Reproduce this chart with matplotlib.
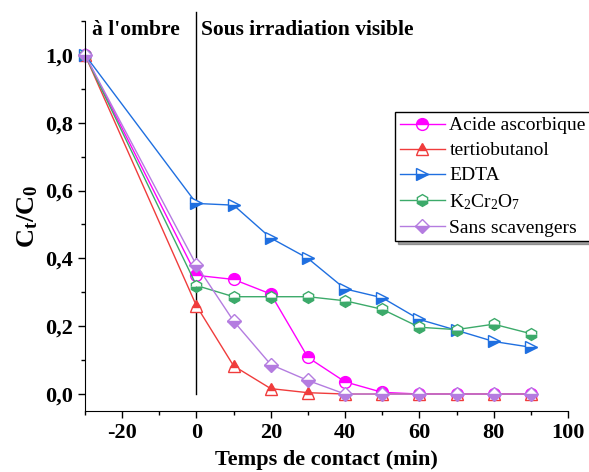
import matplotlib
matplotlib.use("Agg")
import matplotlib.pyplot as plt
from matplotlib.ticker import FuncFormatter, MultipleLocator

plt.rcParams['font.family'] = ['Liberation Serif', 'DejaVu Serif']
plt.rcParams['mathtext.fontset'] = 'custom'
plt.rcParams['mathtext.rm'] = 'Liberation Serif'
plt.rcParams['mathtext.it'] = 'Liberation Serif'
plt.rcParams['mathtext.bf'] = 'Liberation Serif:bold'

time = [-30, 0, 10, 20, 30, 40, 50, 60, 70, 80, 90]
acide = [1.0, 0.35, 0.338, 0.295, 0.108, 0.036, 0.005, 0.0, 0.0, 0.0, 0.0]
tertio = [1.0, 0.26, 0.083, 0.016, 0.004, 0.0, 0.0, 0.0, 0.0, 0.0, 0.0]
edta = [1.0, 0.562, 0.557, 0.46, 0.40, 0.31, 0.284, 0.22, 0.188, 0.155, 0.138]
k2cr = [1.0, 0.32, 0.287, 0.287, 0.287, 0.275, 0.25, 0.197, 0.19, 0.206, 0.178]
sans = [1.0, 0.38, 0.215, 0.087, 0.04, 0.0, 0.0, 0.0, 0.0, 0.0, 0.0]

series = [
    ("Acide ascorbique", acide, '#FF00FF', 'o', 'top'),
    ("tertiobutanol", tertio, '#F03C3C', '^', 'top'),
    ("EDTA", edta, '#1F6FE0', '>', 'bottom'),
    (r"K$_2$Cr$_2$O$_7$", k2cr, '#3CAA6A', 'h', 'bottom'),
    ("Sans scavengers", sans, '#B47CE0', 'D', 'bottom'),
]

fig = plt.figure(figsize=(5.89, 4.72), dpi=100)
ax = fig.add_axes([85/589, 1-411/472, (568-85)/589, (411-21)/472])

for label, vals, col, mk, fs in series:
    ms = 7 if mk == 'D' else 8.5
    ax.plot(time, vals, color=col, lw=1.0, marker=mk, markersize=ms,
            fillstyle=fs, markerfacecolor=col, markerfacecoloralt='white',
            markeredgecolor=col, markeredgewidth=1.0, label=label, clip_on=False)

ax.set_xlim(-30, 100)
ax.set_ylim(-0.05, 1.1)

ax.plot([0, 0], [0, 1.128], color='black', lw=1.0, clip_on=False, zorder=1)

ax.spines['top'].set_visible(False)
ax.spines['right'].set_visible(False)
ax.xaxis.set_major_locator(MultipleLocator(20))
ax.xaxis.set_minor_locator(MultipleLocator(10))
ax.yaxis.set_major_locator(MultipleLocator(0.2))
ax.yaxis.set_minor_locator(MultipleLocator(0.1))
ax.yaxis.set_major_formatter(FuncFormatter(lambda v, p: f"{v:.1f}".replace('.', ',')))
ax.xaxis.set_major_formatter(FuncFormatter(lambda v, p: f"{v:.0f}"))
ax.tick_params(axis='both', which='major', direction='out', length=5, width=1, labelsize=16)
ax.tick_params(axis='both', which='minor', direction='out', length=3, width=1)
for lab in ax.get_xticklabels() + ax.get_yticklabels():
    lab.set_fontweight('bold')

ax.set_xlabel("Temps de contact (min)", fontsize=16, fontweight='bold', labelpad=5)
ax.set_ylabel(r"$\mathbf{C_t/C_0}$", fontsize=19, labelpad=4)

fig.text(92/589, 1-30/472, "à l'ombre", fontsize=15.5, fontweight='bold', va='center', ha='left')
fig.text(201/589, 1-30/472, "Sous irradiation visible", fontsize=15.5, fontweight='bold', va='center', ha='left')

leg = ax.legend(loc='upper left', bbox_to_anchor=(395/589, 1-112/472), bbox_transform=fig.transFigure,
                fontsize=14, frameon=True, fancybox=False, shadow=True, handlelength=2.3,
                handletextpad=0.25, borderpad=0.25, labelspacing=0.38, borderaxespad=0)
leg.get_frame().set_edgecolor('black')
leg.get_frame().set_linewidth(1.0)

fig.savefig("out.png", dpi=100)
